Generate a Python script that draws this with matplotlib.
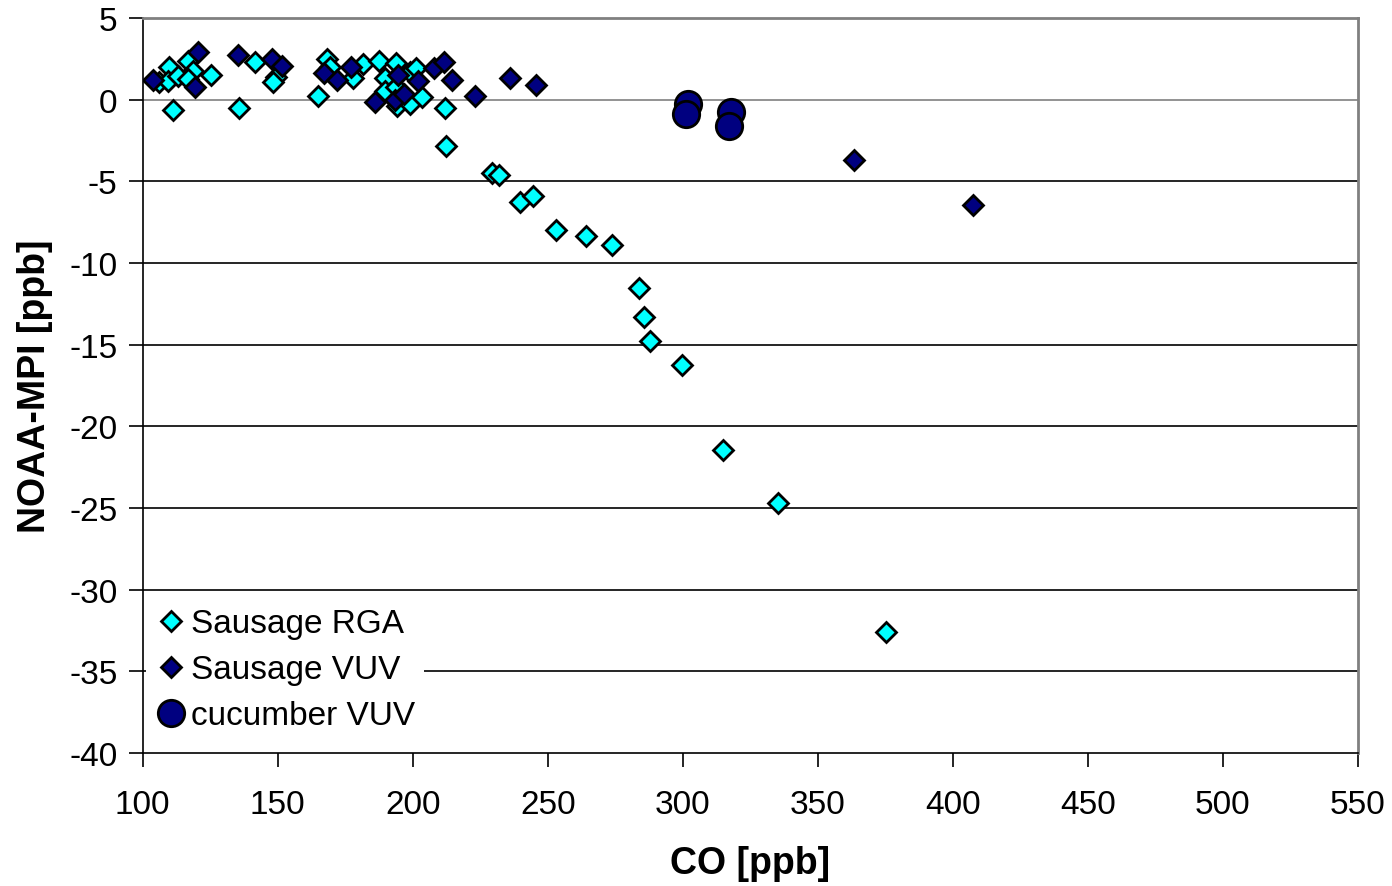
import matplotlib
matplotlib.use("Agg")
import matplotlib.pyplot as plt

plt.rcParams["font.family"] = ["Liberation Sans", "DejaVu Sans"]
plt.rcParams["axes.unicode_minus"] = False

# Sausage RGA (cyan diamonds)
rga_co = [106.2, 109.9, 109.4, 113.0, 116.9, 118.8, 116.9, 125.3, 111.4, 135.7,
          141.6, 149.3, 148.4, 165.1, 168.2, 169.4, 177.9, 181.6, 187.6, 193.9,
          189.6, 199.1, 201.1, 189.8, 193.9, 194.2, 198.9, 203.4, 211.8, 212.2,
          229.4, 232.1, 239.9, 244.5, 252.9, 264.3, 273.9, 283.7, 285.6, 287.7,
          299.6, 314.8, 335.2, 375.3]
rga_diff = [1.06, 1.98, 1.16, 1.47, 2.39, 1.77, 1.26, 1.53, -0.63, -0.53,
            2.33, 1.37, 1.06, 0.24, 2.49, 1.98, 1.31, 2.18, 2.39, 2.23,
            1.31, 1.71, 1.92, 0.55, 0.76, -0.41, -0.27, 0.18, -0.53, -2.86,
            -4.49, -4.60, -6.29, -5.92, -7.96, -8.33, -8.88, -11.53, -13.31, -14.78,
            -16.25, -21.45, -24.70, -32.60]

# Sausage VUV (navy diamonds)
vuv_co = [103.9, 120.6, 119.4, 135.4, 147.8, 151.5, 167.2, 171.9, 177.1, 194.6,
          201.8, 186.1, 193.5, 196.6, 207.8, 211.5, 214.6, 223.0, 236.2, 245.8,
          363.4, 407.5]
vuv_diff = [1.22, 2.90, 0.76, 2.73, 2.49, 2.08, 1.61, 1.22, 1.98, 1.53,
            1.12, -0.16, 0.00, 0.35, 1.94, 2.33, 1.22, 0.21, 1.31, 0.90,
            -3.70, -6.45]

# cucumber VUV (navy circles)
cuc_co = [302.1, 301.4, 317.8, 317.1]
cuc_diff = [-0.27, -0.88, -0.78, -1.60]

fig = plt.figure(figsize=(13.92, 8.87), dpi=100)
ax = fig.add_axes([0.1025, 0.150, 0.8729, 0.8286])

ax.plot(rga_co, rga_diff, linestyle="none", marker="D", markersize=10.5,
        markerfacecolor="#00FFFF", markeredgecolor="black", markeredgewidth=2,
        label="Sausage RGA", zorder=3)
ax.plot(vuv_co, vuv_diff, linestyle="none", marker="D", markersize=10.5,
        markerfacecolor="#000080", markeredgecolor="black", markeredgewidth=2,
        label="Sausage VUV", zorder=3)
ax.plot(cuc_co, cuc_diff, linestyle="none", marker="o", markersize=19,
        markerfacecolor="#000080", markeredgecolor="black", markeredgewidth=2,
        label="cucumber VUV", zorder=4)

ax.set_xlim(100, 550)
ax.set_ylim(-40, 5)
ax.set_xticks(range(100, 551, 50))
ax.set_yticks(range(-40, 6, 5))

# horizontal gridlines, the zero line is grey
for yv in range(-35, 5, 5):
    ax.axhline(yv, color="#808080" if yv == 0 else "black", linewidth=1.2, zorder=1)

for side in ["left", "bottom"]:
    ax.spines[side].set_color("black")
    ax.spines[side].set_linewidth(1.2)
for side in ["top", "right"]:
    ax.spines[side].set_color("#808080")
    ax.spines[side].set_linewidth(2)

ax.tick_params(axis="both", direction="out", length=10, width=1.2,
               labelsize=24, pad=8)
ax.tick_params(axis="x", pad=16)

ax.set_xlabel("CO [ppb]", fontsize=27, fontweight="bold", labelpad=18)
ax.set_ylabel("NOAA-MPI [ppb]", fontsize=27, fontweight="bold", labelpad=12)

leg = ax.legend(loc="lower left", bbox_to_anchor=(0.003, 0.018), fontsize=24,
                frameon=True, facecolor="white", edgecolor="none", framealpha=1,
                handletextpad=0.1, borderaxespad=0.0, labelspacing=0.45,
                handlelength=1.0, borderpad=0.25, markerscale=1.0)
leg.set_zorder(5)

fig.savefig("out.png", dpi=100)
